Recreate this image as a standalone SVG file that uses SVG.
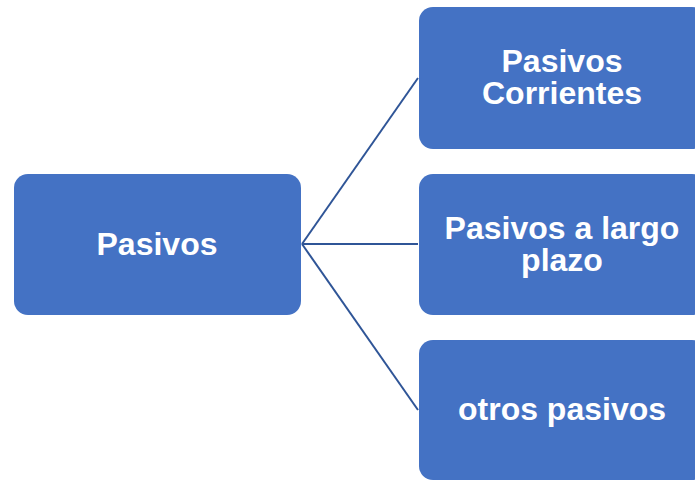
<svg xmlns="http://www.w3.org/2000/svg" width="695" height="480" viewBox="0 0 695 480">
<style>
.box{fill:#4472C4;}
.t{font-family:"Liberation Sans",Arial,sans-serif;font-weight:bold;font-size:32px;fill:#fff;text-anchor:middle;}
.c{stroke:#2F5597;stroke-width:2;fill:none;}
</style>
<rect width="695" height="480" fill="#fff"/>
<g id="connectors">
<line class="c" x1="302" y1="244" x2="418" y2="78"/>
<line class="c" x1="302" y1="244" x2="418" y2="244"/>
<line class="c" x1="302" y1="244" x2="418" y2="410"/>
</g>
<g id="pasivos">
<rect class="box" x="14" y="174" width="287" height="141" rx="14"/>
<text class="t" x="157" y="255">Pasivos</text>
</g>
<g id="corrientes">
<rect class="box" x="419" y="7" width="287" height="142" rx="14"/>
<text class="t"><tspan x="562" y="72">Pasivos</tspan><tspan x="562" y="104">Corrientes</tspan></text>
</g>
<g id="largo">
<rect class="box" x="419" y="174" width="287" height="141" rx="14"/>
<text class="t"><tspan x="562" y="239">Pasivos a largo</tspan><tspan x="562" y="271">plazo</tspan></text>
</g>
<g id="otros">
<rect class="box" x="419" y="340" width="287" height="140" rx="14"/>
<text class="t" x="562" y="420">otros pasivos</text>
</g>
</svg>
